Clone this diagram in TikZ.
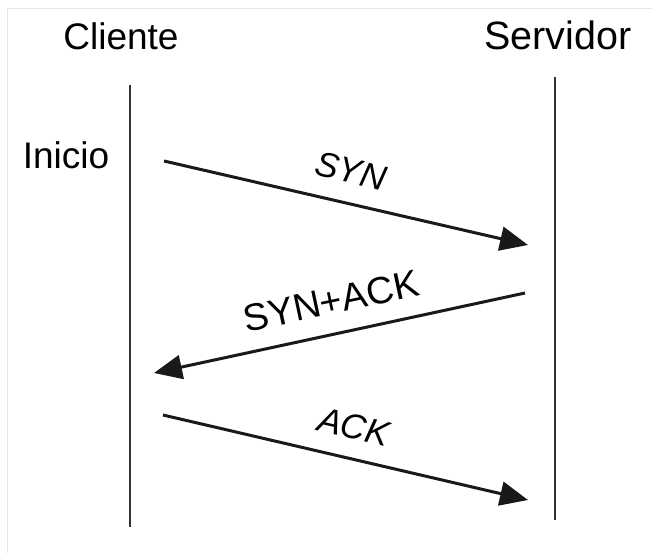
\documentclass[tikz,border=0pt]{standalone}
\usepackage{fontspec}
\setmainfont{Liberation Sans}
\usetikzlibrary{arrows.meta}
\begin{document}
\begin{tikzpicture}[x=1pt,y=-1pt,
  head/.style={inner sep=0pt},
  msglabel/.style={font=\fontsize{35}{38}\selectfont, inner sep=0pt},
  lifeline/.style={line width=1.6pt, draw=black!80},
  msg/.style={line width=3pt, draw=black!90, -{Triangle[length=28pt,width=24pt]}},
  frame/.style={line width=1pt, draw=black!10}]
  \useasboundingbox (0,0) rectangle (652,553);
  \fill[white] (0,0) rectangle (652,553);
  % thin frame along top and left edges
  \draw[frame] (7,553) -- (7,9) -- (652,9);

  % participant headings
  \node[head, font=\fontsize{37}{40}\selectfont] (client) at (121,36) {Cliente};
  \node[head, font=\fontsize{39.5}{42}\selectfont] (server) at (558,35) {Servidor};
  \node[head, font=\fontsize{37}{40}\selectfont] (start) at (66,155) {Inicio};

  % lifelines
  \coordinate (ctop) at (130,85);
  \coordinate (cbot) at (130,527);
  \coordinate (stop) at (555,77);
  \coordinate (sbot) at (555,520);
  \draw[lifeline] (ctop) -- (cbot);
  \draw[lifeline] (stop) -- (sbot);

  % message end points
  \coordinate (syn0) at (164,161);
  \coordinate (syn1) at (528,245);
  \coordinate (sa0) at (525,293);
  \coordinate (sa1) at (154,373);
  \coordinate (ack0) at (163,415);
  \coordinate (ack1) at (528,500);

  % messages
  \draw[msg] (syn0) -- (syn1);
  \draw[msg] (sa0) -- (sa1);
  \draw[msg] (ack0) -- (ack1);

  % message labels
  \node[msglabel, rotate=-13] (synlbl) at (351,171) {\itshape SYN};
  \node[msglabel, rotate=12, font=\fontsize{38}{40}\selectfont] (salbl) at (331,301) {SYN+ACK};
  \node[msglabel, rotate=-13] (acklbl) at (354,427) {\itshape ACK};
\end{tikzpicture}
\end{document}
